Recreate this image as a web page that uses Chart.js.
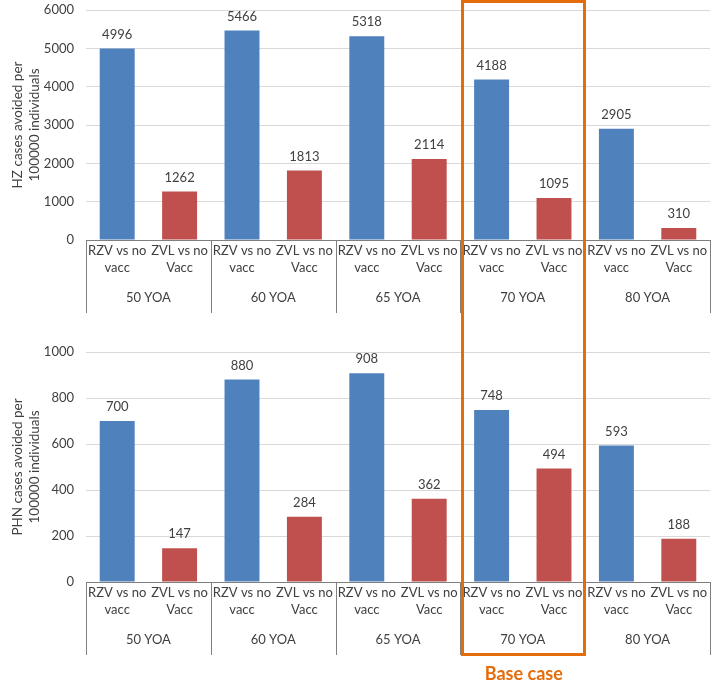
<!DOCTYPE html>
<html>
<head>
<meta charset="utf-8">
<script src="https://cdn.jsdelivr.net/npm/chart.js@4.4.1/dist/chart.umd.min.js"></script>
<style>
  html, body { margin: 0; padding: 0; background: #ffffff; }
  #wrap { position: relative; width: 714px; height: 683px; overflow: hidden; }
  canvas { position: absolute; left: 0; }
  #box { position: absolute; border: 3px solid #E46C0A; box-sizing: border-box; }
  #base { position: absolute; font-family: Lato, "Open Sans", sans-serif; font-weight: bold; font-size: 18px; color: #E46C0A; text-align: center; }
</style>
</head>
<body>
<div id="wrap">
  <canvas id="c1" width="714" height="320" style="top:0px"></canvas>
  <canvas id="c2" width="714" height="332" style="top:330px"></canvas>
  <div id="box"></div>
  <div id="base">Base case</div>
</div>
<script>
// ---- data ----
const groups = ["50 YOA", "60 YOA", "65 YOA", "70 YOA", "80 YOA"];
const subLabels = [["RZV vs no", "vacc"], ["ZVL vs no", "Vacc"]];
const hzRZV = [4996, 5466, 5318, 4188, 2905];
const hzZVL = [1262, 1813, 2114, 1095, 310];
const phnRZV = [700, 880, 908, 748, 593];
const phnZVL = [147, 284, 362, 494, 188];
const hzTitle = ["HZ cases avoided per", "100000 individuals"];
const phnTitle = ["PHN cases avoided per", "100000 individuals"];
const baseCaseGroup = "70 YOA";

const BLUE = "#4F81BD", RED = "#C0504D";
const FONT = "Lato, 'Open Sans', sans-serif";

function interleave(a, b) {
  const out = [];
  a.forEach((v, i) => { out.push(v); out.push(b[i]); });
  return out;
}
const labels = [];
groups.forEach(() => { labels.push(subLabels[0]); labels.push(subLabels[1]); });
const colors = [];
groups.forEach(() => { colors.push(BLUE); colors.push(RED); });

const groupAxisPlugin = {
  id: "groupAxis",
  afterDraw(chart) {
    const ctx = chart.ctx, ca = chart.chartArea, xs = chart.scales.x;
    const half = (xs.getPixelForValue(1) - xs.getPixelForValue(0)) / 2;
    ctx.save();
    const meta = chart.getDatasetMeta(0);
    ctx.fillStyle = "#404040";
    ctx.font = "13px " + FONT;
    ctx.textAlign = "center";
    ctx.textBaseline = "middle";
    meta.data.forEach((bar, i) => {
      const v = chart.data.datasets[0].data[i];
      ctx.fillText(String(v), bar.x, bar.y - 14);
    });
    ctx.strokeStyle = "#7f7f7f";
    ctx.lineWidth = 1;
    ctx.beginPath();
    ctx.moveTo(ca.left, Math.round(ca.bottom) + 0.5);
    ctx.lineTo(ca.right, Math.round(ca.bottom) + 0.5);
    ctx.stroke();
    ctx.beginPath();
    for (let g = 0; g <= groups.length; g++) {
      const x = Math.round(xs.getPixelForValue(g * 2) - half) + 0.5;
      ctx.moveTo(x, ca.bottom);
      ctx.lineTo(x, ca.bottom + 73);
    }
    ctx.stroke();
    ctx.fillStyle = "#404040";
    groups.forEach((g, i) => {
      const x = (xs.getPixelForValue(i * 2) + xs.getPixelForValue(i * 2 + 1)) / 2;
      ctx.fillText(g, x, ca.bottom + 58);
    });
    ctx.restore();
  }
};

function makeChart(id, a, b, max, step, title, topPad) {
  return new Chart(document.getElementById(id), {
    type: "bar",
    data: {
      labels: labels,
      datasets: [{ data: interleave(a, b), backgroundColor: colors, barPercentage: 0.56, categoryPercentage: 1.0 }]
    },
    options: {
      responsive: false,
      animation: false,
      devicePixelRatio: 1,
      layout: { padding: { top: topPad, right: 4, bottom: 0, left: 0 } },
      plugins: { legend: { display: false }, tooltip: { enabled: false } },
      scales: {
        x: {
          grid: { display: false, drawTicks: false },
          border: { display: false },
          ticks: { color: "#404040", font: { size: 13, family: FONT, lineHeight: 1.25 }, maxRotation: 0, autoSkip: false, padding: 3 },
          afterFit(s) { s.height = 80; }
        },
        y: {
          min: 0, max: max,
          ticks: { stepSize: step, color: "#404040", font: { size: 13, family: FONT }, padding: 2,
                   callback: (v) => String(v) },
          grid: { color: "#d9d9d9", drawTicks: true, tickLength: 10, tickColor: "rgba(0,0,0,0)" },
          border: { display: false },
          title: { display: true, text: title, color: "#404040", font: { size: 13.5, family: FONT, lineHeight: 1.25 }, padding: { top: 9, bottom: 0 } },
          afterFit(s) { s.width = 86; }
        }
      }
    },
    plugins: [groupAxisPlugin]
  });
}

const ch1 = makeChart("c1", hzRZV, hzZVL, 6000, 1000, hzTitle, 10);
const ch2 = makeChart("c2", phnRZV, phnZVL, 1000, 200, phnTitle, 22);

// base case highlight box across both charts
const gi = groups.indexOf(baseCaseGroup);
const xs = ch1.scales.x;
const half = (xs.getPixelForValue(1) - xs.getPixelForValue(0)) / 2;
const left = xs.getPixelForValue(gi * 2) - half + 1;
const right = xs.getPixelForValue(gi * 2 + 1) + half + 1;
const box = document.getElementById("box");
box.style.left = left + "px";
box.style.top = "0px";
box.style.width = (right - left) + "px";
const bottom = 330 + ch2.chartArea.bottom + 74;
box.style.height = bottom + "px";
const base = document.getElementById("base");
base.style.left = left + "px";
base.style.width = (right - left) + "px";
base.style.top = (bottom + 6) + "px";
</script>
</body>
</html>
